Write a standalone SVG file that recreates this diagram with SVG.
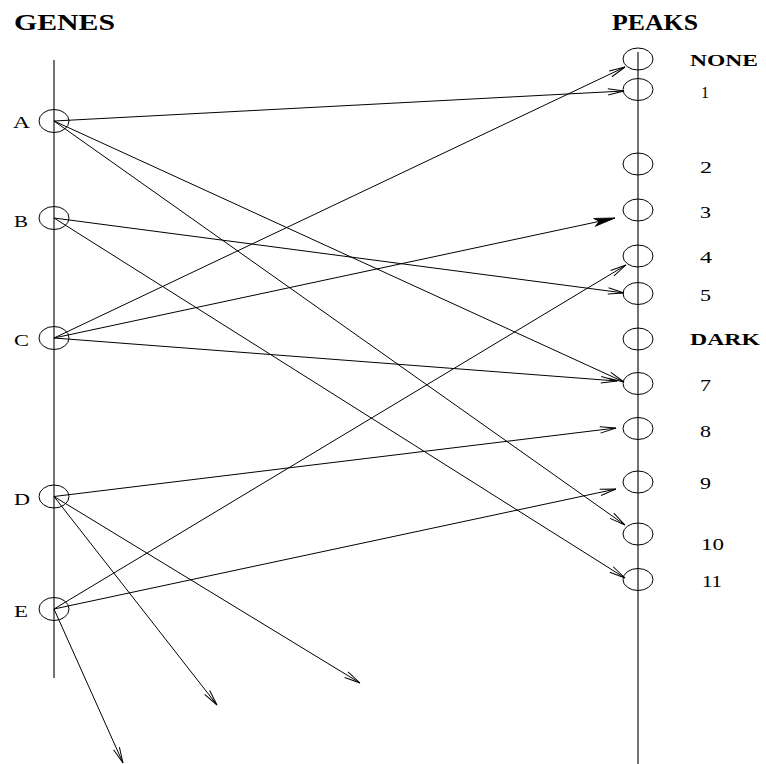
<svg xmlns="http://www.w3.org/2000/svg" width="766" height="764" viewBox="0 0 766 764">
  <style>
    .axis { stroke: #000; stroke-width: 1.1; fill: none; }
    .node ellipse { fill: none; stroke: #000; stroke-width: 1; }
    .lbl { font-family: "Liberation Serif", "Times New Roman", serif; font-size: 17.5px; fill: #000; }
    .bold { font-family: "Liberation Serif", "Times New Roman", serif; font-weight: bold; fill: #000; }
    .edges line { stroke: #000; stroke-width: 1; }
  </style>
  <defs>
    <marker id="open" markerUnits="userSpaceOnUse" markerWidth="40" markerHeight="40" viewBox="-20 -10 40 20" refX="0" refY="0" orient="auto" overflow="visible">
      <path d="M -16,-3.2 L 0,0 L -16,3.2" fill="none" stroke="#000" stroke-width="1"/>
    </marker>
    <marker id="solid" markerUnits="userSpaceOnUse" markerWidth="40" markerHeight="40" viewBox="-20 -10 40 20" refX="0" refY="0" orient="auto" overflow="visible">
      <path d="M 0,0 L -21,-4 L -16,0 L -21,4 Z" fill="#000" stroke="#000" stroke-width="0.8"/>
    </marker>
  </defs>
  <rect width="766" height="764" fill="#fff"/>

  <!-- column headings -->
  <text class="bold" x="14" y="30" font-size="23.5" textLength="101" lengthAdjust="spacingAndGlyphs">GENES</text>
  <text class="bold" x="612" y="30" font-size="23.5" textLength="86" lengthAdjust="spacingAndGlyphs">PEAKS</text>

  <!-- axes -->
  <line class="axis" x1="54" y1="60" x2="54" y2="678"/>
  <line class="axis" x1="638" y1="52" x2="638" y2="764"/>

  <!-- gene nodes -->
  <g id="gene-A" class="node"><ellipse cx="54" cy="121" rx="15" ry="11.5"/><text class="lbl" x="13" y="128" textLength="17" lengthAdjust="spacingAndGlyphs">A</text></g>
  <g id="gene-B" class="node"><ellipse cx="54" cy="218" rx="15" ry="11.5"/><text class="lbl" x="14" y="227" textLength="14" lengthAdjust="spacingAndGlyphs">B</text></g>
  <g id="gene-C" class="node"><ellipse cx="54" cy="338" rx="15" ry="11.5"/><text class="lbl" x="14" y="346" textLength="15" lengthAdjust="spacingAndGlyphs">C</text></g>
  <g id="gene-D" class="node"><ellipse cx="54" cy="496.5" rx="15" ry="11.5"/><text class="lbl" x="14" y="505" textLength="16" lengthAdjust="spacingAndGlyphs">D</text></g>
  <g id="gene-E" class="node"><ellipse cx="54" cy="609" rx="15" ry="11.5"/><text class="lbl" x="14" y="617" textLength="14" lengthAdjust="spacingAndGlyphs">E</text></g>

  <!-- peak nodes -->
  <g id="peak-none" class="node"><ellipse cx="638" cy="59" rx="15" ry="11"/><text class="bold" x="690" y="66" font-size="16.5" textLength="68" lengthAdjust="spacingAndGlyphs">NONE</text></g>
  <g id="peak-1" class="node"><ellipse cx="638" cy="89.5" rx="15" ry="11"/><text class="lbl" x="701" y="98" textLength="8" lengthAdjust="spacingAndGlyphs">1</text></g>
  <g id="peak-2" class="node"><ellipse cx="638" cy="164" rx="15" ry="11"/><text class="lbl" x="700" y="173" textLength="12" lengthAdjust="spacingAndGlyphs">2</text></g>
  <g id="peak-3" class="node"><ellipse cx="638" cy="210" rx="15" ry="11"/><text class="lbl" x="700" y="218" textLength="11" lengthAdjust="spacingAndGlyphs">3</text></g>
  <g id="peak-4" class="node"><ellipse cx="638" cy="256" rx="15" ry="11"/><text class="lbl" x="700" y="263" textLength="12" lengthAdjust="spacingAndGlyphs">4</text></g>
  <g id="peak-5" class="node"><ellipse cx="638" cy="293.5" rx="15" ry="11"/><text class="lbl" x="700" y="301" textLength="11" lengthAdjust="spacingAndGlyphs">5</text></g>
  <g id="peak-dark" class="node"><ellipse cx="638" cy="339" rx="15" ry="11"/><text class="bold" x="690" y="345" font-size="16.5" textLength="70" lengthAdjust="spacingAndGlyphs">DARK</text></g>
  <g id="peak-7" class="node"><ellipse cx="638" cy="383.5" rx="15" ry="11"/><text class="lbl" x="700" y="391" textLength="11" lengthAdjust="spacingAndGlyphs">7</text></g>
  <g id="peak-8" class="node"><ellipse cx="638" cy="428.5" rx="15" ry="11"/><text class="lbl" x="700" y="437" textLength="11" lengthAdjust="spacingAndGlyphs">8</text></g>
  <g id="peak-9" class="node"><ellipse cx="638" cy="482" rx="15" ry="11"/><text class="lbl" x="700" y="489" textLength="11" lengthAdjust="spacingAndGlyphs">9</text></g>
  <g id="peak-10" class="node"><ellipse cx="638" cy="534" rx="15" ry="11"/><text class="lbl" x="701" y="550" textLength="23" lengthAdjust="spacingAndGlyphs">10</text></g>
  <g id="peak-11" class="node"><ellipse cx="638" cy="579.5" rx="15" ry="11"/><text class="lbl" x="702" y="587" textLength="20" lengthAdjust="spacingAndGlyphs">11</text></g>

  <!-- gene to peak links -->
  <g id="edges" class="edges">
    <line x1="54" y1="121" x2="624" y2="91" marker-end="url(#open)"/>
    <line x1="54" y1="121" x2="624" y2="382" marker-end="url(#open)"/>
    <line x1="54" y1="121" x2="625" y2="525" marker-end="url(#open)"/>
    <line x1="54" y1="218" x2="624" y2="293" marker-end="url(#open)"/>
    <line x1="54" y1="218" x2="625" y2="578" marker-end="url(#open)"/>
    <line x1="54" y1="338" x2="625" y2="67" marker-end="url(#open)"/>
    <line x1="54" y1="338" x2="615" y2="218" marker-end="url(#solid)"/>
    <line x1="54" y1="338" x2="617" y2="381" marker-end="url(#open)"/>
    <line x1="54" y1="496.5" x2="616" y2="428" marker-end="url(#open)"/>
    <line x1="54" y1="496.5" x2="217" y2="705" marker-end="url(#open)"/>
    <line x1="54" y1="496.5" x2="360" y2="683" marker-end="url(#open)"/>
    <line x1="54" y1="609" x2="626" y2="265" marker-end="url(#open)"/>
    <line x1="54" y1="609" x2="616" y2="489" marker-end="url(#open)"/>
    <line x1="54" y1="609" x2="123" y2="763" marker-end="url(#open)"/>
  </g>
</svg>
